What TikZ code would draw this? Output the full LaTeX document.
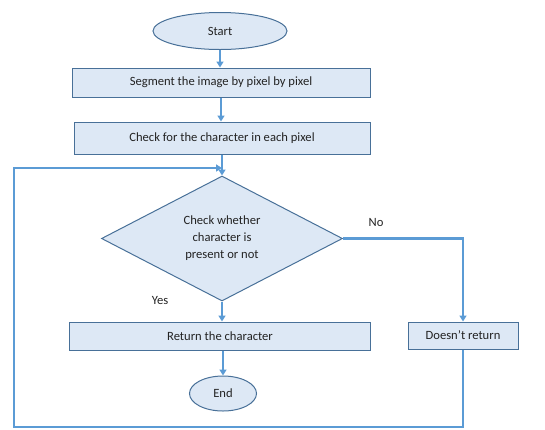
\documentclass[tikz,border=0pt]{standalone}
\usepackage{fontspec}
\setmainfont{Carlito}
\usetikzlibrary{arrows.meta,shapes.geometric}
\definecolor{boxfill}{RGB}{221,232,245}
\definecolor{boxline}{RGB}{72,112,152}
\definecolor{flowline}{RGB}{91,155,213}
\definecolor{txt}{RGB}{35,35,35}
\tikzset{
  term/.style={ellipse,draw=boxline,fill=boxfill,line width=1pt,inner sep=0pt,
    text=txt,font=\fontsize{12.6}{15}\selectfont},
  box/.style={draw=boxline,fill=boxfill,line width=1pt,inner sep=0pt,
    text=txt,font=\fontsize{12.6}{15}\selectfont},
  decision/.style={diamond,draw=boxline,fill=boxfill,line width=1pt,inner sep=0pt,
    aspect=2,align=center,text=txt,font=\fontsize{12.6}{17}\selectfont},
  lbl/.style={text=txt,font=\fontsize{12.6}{15}\selectfont},
  flow/.style={-{Triangle[length=6pt,width=7pt]},line width=2.3pt,flowline},
}
\begin{document}
\begin{tikzpicture}[x=1pt,y=-1pt]
  \useasboundingbox (0,0) rectangle (545,429);

  \node[term,minimum width=134pt,minimum height=37pt] (start) at (220,31) {Start};
  \node[box,minimum width=298pt,minimum height=29pt] (seg) at (221,82.5)
    {Segment the image by pixel by pixel};
  \node[box,minimum width=296pt,minimum height=32pt] (chk) at (222,138)
    {Check for the character in each pixel};
  \node[decision,minimum width=241pt,minimum height=125pt] (dec) at (222,238.5)
    {Check whether\\character is\\present or not};
  \node[box,minimum width=301pt,minimum height=28pt] (ret) at (220,336)
    {Return the character};
  \node[box,minimum width=110pt,minimum height=27pt] (noret) at (463,335.5)
    {Doesn’t return};
  \node[term,minimum width=67pt,minimum height=35pt] (end) at (223,393.5) {End};

  \node[lbl] (no) at (376,222) {No};
  \node[lbl] (yes) at (160,300) {Yes};

  % main line
  \draw[flow] (start.south) -- (start.south |- seg.north);
  \draw[flow] (seg.south) -- (seg.south |- chk.north);
  \draw[flow] (chk.south) -- (dec.north);
  \draw[flow] (dec.south) -- (dec.south |- ret.north);
  \draw[flow] (ret.south -| end.north) -- (end.north);

  % no branch and loop back
  \draw[flow] (dec.east) -| (noret.north);
  \coordinate (lb) at (14,427);
  \coordinate (lt) at (14,168);
  \draw[flow] (noret.south) |- (lb) -- (lt) -- (lt -| dec.north);
\end{tikzpicture}
\end{document}
